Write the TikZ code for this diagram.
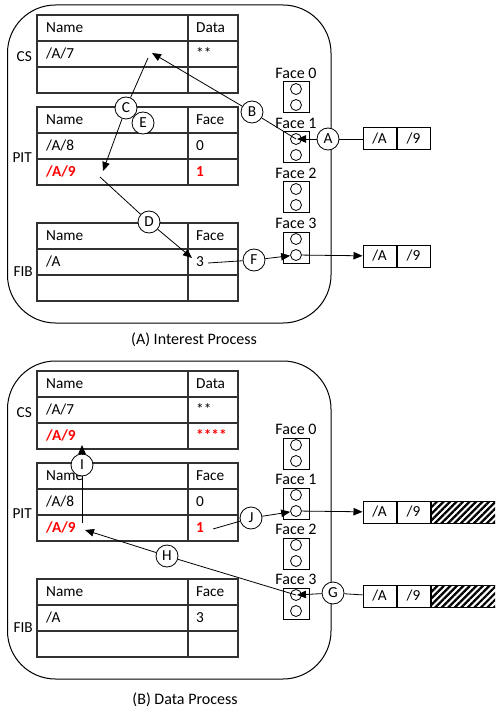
\documentclass[tikz,border=0pt]{standalone}
\usepackage{fontspec}
\setmainfont{Carlito}
\usetikzlibrary{arrows.meta,positioning,patterns.meta}
\definecolor{hitred}{RGB}{255,0,0}
\definecolor{gridgray}{RGB}{50,50,50}
\newcommand{\tblfont}{\fontsize{15.3}{17}\selectfont}
\newcommand{\capfont}{\fontsize{16}{18}\selectfont}

\begin{document}
\begin{tikzpicture}[x=1pt,y=-1pt,
    tbl/.style={line width=1.7pt,draw=gridgray},
    cell/.style={anchor=base west,inner sep=0pt,font=\tblfont},
    side/.style={anchor=east,inner sep=0pt,font=\tblfont},
    hot/.style={text=hitred,font=\tblfont\bfseries},
    tag/.style={circle,draw,fill=white,inner sep=0pt,minimum size=22pt,line width=0.8pt,font=\tblfont},
    port/.style={draw,line width=1pt,minimum width=26pt,minimum height=31pt,inner sep=0pt},
    hole/.style={circle,draw,line width=0.8pt,inner sep=0pt,minimum size=11pt},
    pkt/.style={draw,line width=1pt,minimum width=33pt,minimum height=22pt,inner sep=0pt,font=\tblfont},
    link/.style={line width=0.8pt},
    flow/.style={link,-{Triangle[length=9pt,width=7.5pt]}}]
  \useasboundingbox (0,0) rectangle (495,711);
  \clip (0,0) rectangle (495,711);

  % --- Both panels: box, tables, faces ---
  \foreach \p/\dy in {a/0,b/356} {
    \begin{scope}[shift={(0,\dy)}]
      \draw[line width=1pt,rounded corners=48pt] (7.5,5) rectangle (331,323);
      \foreach \y in {15,107,223} {
        \draw[tbl] (37,\y) rectangle (238,\y+78);
        \draw[tbl] (37,\y+26) -- (238,\y+26) (37,\y+52) -- (238,\y+52);
        \draw[tbl] (188,\y) -- (188,\y+78);
      }
      \node[side] (\p-cs) at (32,57) {CS};
      \node[side] (\p-pit) at (32,158) {PIT};
      \node[side] (\p-fib) at (33,272) {FIB};
      % CS
      \node[cell] (\p-cs-h1) at (46,32.5) {Name};
      \node[cell] (\p-cs-h2) at (196,32.5) {Data};
      \node[cell] (\p-cs-n1) at (46,58.5) {/A/7};
      \node[cell] (\p-cs-d1) at (196,58.5) {**};
      % PIT
      \node[cell] (\p-pit-h1) at (46,124.5) {Name};
      \node[cell] (\p-pit-h2) at (196,124.5) {Face};
      \node[cell] (\p-pit-n1) at (46,150.5) {/A/8};
      \node[cell] (\p-pit-f1) at (196,150.5) {0};
      \node[cell,hot] (\p-pit-n2) at (46,176.5) {/A/9};
      \node[cell,hot] (\p-pit-f2) at (196,176.5) {1};
      % FIB
      \node[cell] (\p-fib-h1) at (46,240.5) {Name};
      \node[cell] (\p-fib-h2) at (196,240.5) {Face};
      \node[cell] (\p-fib-n1) at (46,266.5) {/A};
      \node[cell] (\p-fib-f1) at (196,266.5) {3};
      % faces
      \foreach \k in {0,...,3} {
        \node[font=\capfont,inner sep=0pt] (\p-face\k) at (296,73+50*\k) {Face \k};
        \node[port] (\p-port\k) at (296,97.5+50*\k) {};
        \node[hole] (\p-f\k-u) at (296,89+50*\k) {};
        \node[hole] (\p-f\k-l) at (296,105+50*\k) {};
      }
    \end{scope}
  }

  % --- (A) Interest Process ---
  \node[font=\capfont] (a-title) at (194,340) {(A) Interest Process};
  \node[pkt] (a-p1n) at (379.5,139) {/A};
  \node[pkt,right=0pt of a-p1n] (a-p1s) {/9};
  \node[pkt] (a-p2n) at (379.5,256) {/A};
  \node[pkt,right=0pt of a-p2n] (a-p2s) {/9};
  \coordinate (a-cs-in) at (152,53);
  \coordinate (a-cs-out) at (148,58);
  \coordinate (a-pit-in) at (103,171);
  \coordinate (a-pit-out) at (100,177);
  \coordinate (a-fib-in) at (192,258);
  \coordinate (a-fib-out) at (208,263);
  \node[tag] (a-A) at (328,139) {A};
  \node[tag] (a-B) at (252,112) {B};
  \node[tag] (a-C) at (126,108) {C};
  \node[tag] (a-E) at (143,123) {E};
  \node[tag] (a-D) at (149,222) {D};
  \node[tag] (a-F) at (254,260) {F};
  \draw[link] (a-p1n) -- (a-A);
  \draw[flow,shorten >=1pt] (a-A) -- (a-f1-u.center);
  \draw[link] (a-f1-u.center) -- (a-B);
  \draw[flow] (a-B) -- (a-cs-in);
  \draw[link] (a-cs-out) -- (a-C);
  \draw[flow] (a-C) -- (a-pit-in);
  \draw[link] (a-pit-out) -- (a-D);
  \draw[flow] (a-D) -- (a-fib-in);
  \draw[link] (a-fib-out) -- (a-F);
  \draw[flow] (a-F) -- (a-f3-l);
  \draw[flow] (a-f3-l) -- (a-p2n);

  % --- (B) Data Process ---
  \node[font=\capfont] (b-title) at (185,700) {(B) Data Process};
  \begin{scope}[shift={(0,356)}]
    \node[cell,hot] (b-cs-n2) at (46,84.5) {/A/9};
    \node[cell,hot] (b-cs-d2) at (196,84.5) {****};
    \node[pkt] (b-p1n) at (379.5,156) {/A};
    \node[pkt,right=0pt of b-p1n] (b-p1s) {/9};
    \node[pkt,right=0pt of b-p1s,minimum width=72pt,
          pattern={Lines[angle=45,distance=4.6pt,line width=2.2pt]}] (b-p1t) {};
    \node[pkt] (b-p2n) at (379.5,240) {/A};
    \node[pkt,right=0pt of b-p2n] (b-p2s) {/9};
    \node[pkt,right=0pt of b-p2s,minimum width=72pt,
          pattern={Lines[angle=45,distance=4.6pt,line width=2.2pt]}] (b-p2t) {};
    \coordinate (b-cs-in) at (82,89);
    \coordinate (b-pit-in) at (85,174);
    \coordinate (b-pit-out) at (82,167);
    \coordinate (b-pit-one) at (213,173);
    \node[tag] (b-G) at (333,237) {G};
    \node[tag] (b-H) at (167,200) {H};
    \node[tag] (b-I) at (82,109) {I};
    \node[tag] (b-J) at (251,162) {J};
    \draw[link] (b-p2n) -- (b-G);
    \draw[flow,shorten >=1pt] (b-G) -- (b-f3-u.center);
    \draw[link] (b-f3-u.center) -- (b-H);
    \draw[flow] (b-H) -- (b-pit-in);
    \draw[link] (b-pit-out) -- (b-I);
    \draw[flow] (b-I) -- (b-cs-in);
    \draw[link] (b-pit-one) -- (b-J);
    \draw[flow] (b-J) -- (b-f1-l);
    \draw[flow] (b-f1-l) -- (b-p1n);
  \end{scope}
\end{tikzpicture}
\end{document}
